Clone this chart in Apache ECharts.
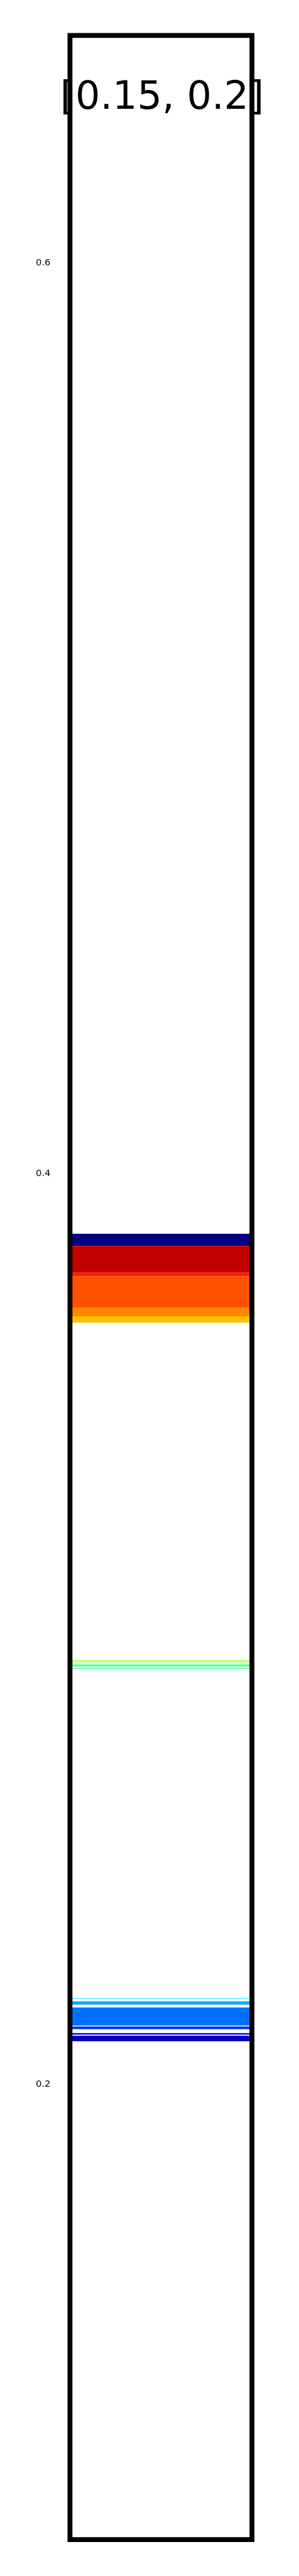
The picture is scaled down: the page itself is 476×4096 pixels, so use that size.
<!DOCTYPE html>
<html>
<head>
<meta charset="utf-8">
<script src="https://cdn.jsdelivr.net/npm/echarts@6/dist/echarts.min.js"></script>
<style>
html,body{margin:0;padding:0;background:#fff;}
#chart{width:476px;height:4096px;}
</style>
</head>
<body>
<div id="chart"></div>
<script>
// Interval bands (value ranges on the y axis) and their colours
const bandLow  = [0.38412, 0.37824, 0.37748, 0.37052, 0.36869, 0.36729,
                  0.29278, 0.29243, 0.29176, 0.29126,
                  0.21877, 0.21749, 0.21290, 0.21211, 0.21092, 0.20946];
const bandHigh = [0.38680, 0.38412, 0.37824, 0.37748, 0.37052, 0.36869,
                  0.29313, 0.29260, 0.29228, 0.29143,
                  0.21895, 0.21822, 0.21688, 0.21269, 0.21127, 0.21068];
const bandColors = ['#000080', '#c40000', '#ff1a00', '#ff5200', '#ff8800', '#ffc000',
                    '#c0ff36', '#b5ffb0', '#66ff90', '#40ffb0',
                    '#40f0ff', '#00aaff', '#0070ff', '#0030ff', '#0000ff', '#0000c0'];
const yTickLabels = [0.2, 0.4, 0.6];
const titleText = '[0.15, 0.2]';
const yMin = 0.10, yMax = 0.65;

const data = bandLow.map((lo, i) => [lo, bandHigh[i], i]);

const chart = echarts.init(document.getElementById('chart'), null, {renderer: 'canvas'});
chart.setOption({
  animation: false,
  backgroundColor: '#ffffff',
  grid: {
    left: 111.4, right: 74.9, top: 56.4, bottom: 57.8,
    show: true, z: 10,
    backgroundColor: 'transparent',
    borderColor: '#000000', borderWidth: 7.8
  },
  graphic: [{
    type: 'text',
    x: 258, y: 157,
    z: 20,
    style: {
      text: titleText,
      fontFamily: 'DejaVu Sans',
      fontSize: 62,
      fill: '#000000',
      textAlign: 'center',
      textVerticalAlign: 'middle'
    }
  }],
  xAxis: {
    type: 'value', min: 0, max: 1, show: false
  },
  yAxis: {
    type: 'value', min: yMin, max: yMax, interval: 0.05,
    axisLine: {show: false},
    axisTick: {show: false},
    splitLine: {show: false},
    axisLabel: {
      customValues: yTickLabels,
      margin: 31,
      fontFamily: 'DejaVu Sans',
      fontSize: 14.7,
      color: '#000000',
      formatter: v => v.toFixed(1)
    }
  },
  series: [{
    type: 'custom',
    data: data,
    renderItem: function (params, api) {
      const lo = api.value(0), hi = api.value(1), idx = api.value(2);
      const p1 = api.coord([0, hi]);
      const p2 = api.coord([1, lo]);
      return {
        type: 'rect',
        shape: {x: p1[0], y: p1[1], width: p2[0] - p1[0], height: p2[1] - p1[1]},
        style: {fill: bandColors[idx]}
      };
    }
  }]
});
</script>
</body>
</html>
